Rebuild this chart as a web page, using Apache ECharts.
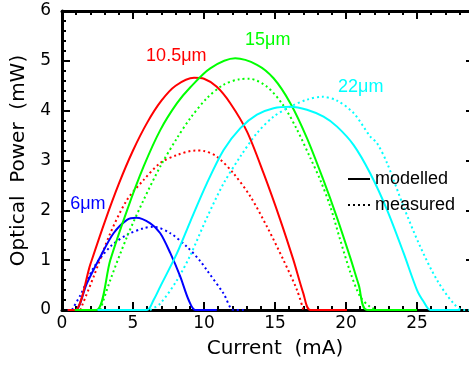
<!DOCTYPE html>
<html>
<head>
<meta charset="utf-8">
<script src="https://cdn.jsdelivr.net/npm/echarts@6/dist/echarts.min.js"></script>
<style>
  html, body { margin: 0; padding: 0; background: #fff; }
  #chart { width: 469px; height: 366px; }
</style>
</head>
<body>
<div id="chart"></div>
<script>
// Light-current curves of four device diameters: modelled (solid) and measured (dotted).
// Current in mA, optical power in mW.

// 6 um device
const i6Mod = [0.4, 0.94, 1.76, 2.70, 3.63, 4.58, 5.23, 6.22, 6.92, 7.63, 8.33, 8.92, 9.39, 10.9];
const p6Mod = [0, 0, 0.54, 1.07, 1.54, 1.81, 1.85, 1.74, 1.54, 1.14, 0.67, 0.2, 0, 0];
const i6Meas = [0.7, 1.3, 2.23, 3.4, 4.58, 5.75, 6.45, 7.63, 8.8, 9.74, 10.2, 11.38, 12.08, 12.8];
const p6Meas = [0, 0.3, 0.85, 1.27, 1.51, 1.64, 1.67, 1.54, 1.27, 0.98, 0.8, 0.33, 0, 0];

// 10.5 um device
const i10Mod = [0.4, 0.94, 2.0, 3.0, 4.0, 5.0, 6.0, 7.0, 8.0, 9.3, 10.0, 10.9, 11.85, 13.03, 14.2, 15.37, 16.3, 17.0, 17.5, 20.07];
const p10Mod = [0, 0, 0.92, 1.76, 2.53, 3.2, 3.76, 4.2, 4.5, 4.66, 4.64, 4.48, 4.15, 3.58, 2.74, 1.81, 1.0, 0.33, 0, 0];
const i10Meas = [1.29, 2.23, 3.4, 4.58, 5.75, 6.92, 8.1, 9.4, 10.0, 10.9, 12.08, 13.26, 14.44, 15.6, 16.55, 17.0];
const p10Meas = [0, 0.67, 1.54, 2.21, 2.61, 2.95, 3.11, 3.2, 3.19, 3.08, 2.74, 2.28, 1.67, 1.0, 0.4, 0];

// 15 um device
const i15Mod = [0.9, 2.42, 3.4, 4.58, 5.75, 6.92, 8.1, 9.04, 10.44, 12.2, 13.73, 14.9, 16.08, 17.25, 18.42, 19.37, 20.3, 20.9, 21.48, 25.0];
const p15Mod = [0, 0, 1.0, 2.0, 2.88, 3.61, 4.15, 4.47, 4.85, 5.05, 4.92, 4.65, 4.15, 3.45, 2.6, 1.85, 1.05, 0.5, 0, 0];
const i15Meas = [2.7, 3.4, 4.58, 5.75, 6.92, 8.1, 9.04, 10.2, 11.38, 12.5, 13.2, 14.44, 15.6, 16.55, 17.49, 18.2, 18.9, 19.6, 20.3, 21.0, 21.7, 22.2];
const p15Meas = [0, 0.6, 1.47, 2.21, 2.88, 3.45, 3.85, 4.25, 4.52, 4.63, 4.64, 4.48, 4.1, 3.62, 3.05, 2.6, 2.07, 1.4, 0.76, 0.27, 0.06, 0];

// 22 um device
const i22Mod = [2.5, 5.98, 6.45, 6.92, 8.1, 9.04, 10.2, 11.38, 12.56, 13.73, 14.9, 16.08, 17.25, 18.42, 19.37, 20.54, 21.71, 22.89, 24.06, 25.0, 25.46, 25.94, 28.05];
const p22Mod = [0, 0, 0.2, 0.47, 1.14, 1.78, 2.54, 3.21, 3.65, 3.92, 4.05, 4.08, 4.02, 3.88, 3.68, 3.31, 2.74, 2.01, 1.14, 0.4, 0.17, 0, 0];
const i22Meas = [6.2, 6.92, 8.1, 9.04, 10.2, 11.38, 12.56, 13.73, 14.9, 16.08, 17.25, 18.3, 19.37, 20.54, 21.71, 22.18, 22.89, 24.06, 25.23, 26.41, 27.58, 28.28, 29.0];
const p22Meas = [0, 0.13, 0.6, 1.1, 1.85, 2.54, 3.08, 3.55, 3.88, 4.08, 4.22, 4.28, 4.2, 3.95, 3.48, 3.35, 2.95, 2.07, 1.27, 0.6, 0.13, 0, 0];

// Curve annotations: text and the (current, power) point they sit on
const labelText = ['6\u03bcm', '10.5\u03bcm', '15\u03bcm', '22\u03bcm'];
const labelAt = [[1.82, 2.13], [8.05, 5.1], [14.49, 5.42], [21.04, 4.47]];

const xTicks = [0, 5, 10, 15, 20, 25];
const yTicks = [0, 1, 2, 3, 4, 5, 6];

const colors = ['#0000ff', '#ff0000', '#00ff00', '#00ffff'];

const zip = (xs, ys) => xs.map((x, k) => [x, ys[k]]);

function curve(xs, ys, color, dotted, label) {
  const s = {
    type: 'line',
    data: zip(xs, ys),
    symbol: 'none',
    smooth: 0.3,
    clip: true,
    silent: true,
    z: dotted ? 2 : 3,
    lineStyle: dotted
      ? { color: color, width: 2, type: [2, 3] }
      : { color: color, width: 2 }
  };
  if (label) {
    s.markPoint = {
      symbol: 'circle',
      symbolSize: 0,
      silent: true,
      data: [{
        coord: label.at,
        label: {
          show: true,
          position: 'inside',
          formatter: label.text,
          color: color,
          fontFamily: 'Liberation Sans',
          fontSize: 18,
          align: 'center',
          verticalAlign: 'middle'
        }
      }]
    };
  }
  return s;
}

const tickFont = { fontFamily: 'DejaVu Sans', fontSize: 17, color: '#000' };
const titleFont = { fontFamily: 'DejaVu Sans', fontSize: 20, color: '#000' };
const axisLine = { show: true, onZero: false, lineStyle: { color: '#000', width: 3 } };
const majorTick = { show: true, inside: true, length: 8, lineStyle: { color: '#000', width: 2 } };
const minorTick = { show: true, splitNumber: 5, length: 4, lineStyle: { color: '#000', width: 2 } };

function xAxisCfg(pos, labels) {
  return {
    type: 'value', position: pos, min: 0, max: 30, interval: 5,
    name: labels ? 'Current  (mA)' : '',
    nameLocation: 'middle', nameGap: 29, nameTextStyle: titleFont,
    axisLine: axisLine, axisTick: majorTick, minorTick: minorTick,
    splitLine: { show: false },
    axisLabel: {
      show: labels, margin: 5, ...tickFont,
      formatter: v => (xTicks.indexOf(v) >= 0 ? String(v) : '')
    }
  };
}

function yAxisCfg(pos, labels, offset) {
  return {
    type: 'value', position: pos, offset: offset, min: 0, max: 6, interval: 1,
    name: labels ? 'Optical  Power  (mW)' : '',
    nameLocation: 'middle', nameGap: 28, nameTextStyle: titleFont,
    axisLine: axisLine, axisTick: majorTick, minorTick: minorTick,
    splitLine: { show: false },
    axisLabel: {
      show: labels, margin: 11, ...tickFont,
      formatter: v => (yTicks.indexOf(v) >= 0 ? String(v) : '')
    }
  };
}

const series = [
  curve(i6Mod, p6Mod, colors[0], false, { text: labelText[0], at: labelAt[0] }),
  curve(i6Meas, p6Meas, colors[0], true),
  curve(i10Mod, p10Mod, colors[1], false, { text: labelText[1], at: labelAt[1] }),
  curve(i10Meas, p10Meas, colors[1], true),
  curve(i15Mod, p15Mod, colors[2], false, { text: labelText[2], at: labelAt[2] }),
  curve(i15Meas, p15Meas, colors[2], true),
  curve(i22Mod, p22Mod, colors[3], false, { text: labelText[3], at: labelAt[3] }),
  curve(i22Meas, p22Meas, colors[3], true),
  // legend keys
  { type: 'line', name: 'modelled', data: [], symbol: 'none', symbolSize: 0, lineStyle: { color: '#000', width: 2 }, itemStyle: { color: '#000' } },
  { type: 'line', name: 'measured', data: [], symbol: 'none', symbolSize: 0, lineStyle: { color: '#000', width: 2, type: [2, 3] }, itemStyle: { color: '#000' } }
];

const chart = echarts.init(document.getElementById('chart'), null, { renderer: 'canvas' });
chart.setOption({
  animation: false,
  backgroundColor: '#fff',
  grid: { left: 62, top: 11, width: 426, height: 299, containLabel: false, outerBoundsMode: 'none' },
  xAxis: [xAxisCfg('bottom', true), xAxisCfg('top', false)],
  yAxis: [yAxisCfg('left', true, 0), yAxisCfg('right', false, -14)],
  legend: {
    data: ['modelled', 'measured'],
    orient: 'vertical', left: 347, top: 170, padding: 0,
    itemWidth: 22, itemHeight: 14, itemGap: 8,
    selectedMode: false,
    itemStyle: { opacity: 0 },
    textStyle: { fontFamily: 'Liberation Sans', fontSize: 18, color: '#000' }
  },
  series: series
});
</script>
</body>
</html>
